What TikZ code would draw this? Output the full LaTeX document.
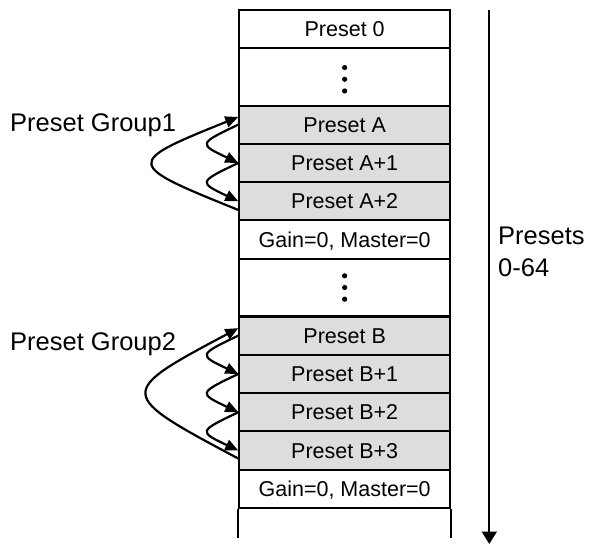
\documentclass[tikz,border=0pt]{standalone}
\usepackage{fontspec}
\setmainfont{Liberation Sans}
\usetikzlibrary{arrows.meta}
\definecolor{cellgray}{RGB}{221,221,221}
\begin{document}
\begin{tikzpicture}[x=1pt,y=-1pt,
  cell/.style={draw, line width=2pt, minimum width=210.7pt, minimum height=38.3pt,
    inner sep=0pt, font=\fontsize{21.5}{25}\selectfont, text height=15.4pt, text depth=0pt},
  grp/.style={fill=cellgray},
  dotrow/.style={draw, line width=2pt, minimum width=210.7pt, minimum height=57.6pt, inner sep=0pt},
  lbl/.style={inner sep=0pt, font=\fontsize{25.5}{32}\selectfont},
  link/.style={line width=2.2pt, -{Triangle[length=13pt,width=11pt]}},
  bullet/.style={fill=black}
]
\useasboundingbox (0,0) rectangle (589,544);
% table rows
\node[cell] (r0) at (344.65,29.15) {Preset 0};
\node[dotrow] (d1) at (344.65,76.75) {};
\node[cell,grp] (A)  at (344.65,124.65) {Preset A};
\node[cell,grp] (A1) at (344.65,162.95) {Preset A+1};
\node[cell,grp] (A2) at (344.65,201.25) {Preset A+2};
\node[cell] (G1) at (344.65,239.55) {Gain=0, Master=0};
\node[dotrow] (d2) at (344.65,287.5) {};
\node[cell,grp] (B)  at (344.65,335.65) {Preset B};
\node[cell,grp] (B1) at (344.65,373.95) {Preset B+1};
\node[cell,grp] (B2) at (344.65,412.25) {Preset B+2};
\node[cell,grp] (B3) at (344.65,450.55) {Preset B+3};
\node[cell] (G2) at (344.65,488.85) {Gain=0, Master=0};
\draw[line width=2pt] (G2.south west) -- ([yshift=-29pt]G2.south west);
\draw[line width=2pt] (G2.south east) -- ([yshift=-29pt]G2.south east);
% dots
\foreach \dy in {-9.2,2.5,14.2} \fill[bullet] ([yshift=-\dy pt]d1.center) circle (2.6pt);
\foreach \dy in {-11.7,0,11.7} \fill[bullet] ([yshift=-\dy pt]d2.center) circle (2.6pt);
% labels
\node[lbl, anchor=base west] (g1) at (10,131.7) {Preset Group1};
\node[lbl, anchor=base west] (g2) at (10,350.7) {Preset Group2};
\node[lbl, anchor=north west, align=left] (pr) at (498,227) {Presets\\0-64};
% right arrow
\coordinate (rtop) at (489.3,10);
\coordinate (rbot) at (489.3,544);
\draw[line width=2pt, -{Triangle[length=12.5pt,width=15pt]}] (rtop) -- (rbot);
% group 1 links
\draw[link] ([yshift=-8.7pt]A2.west) .. controls +(-114,-46) and +(-114,46) .. ([yshift=7.7pt]A.west);
\draw[link] (A.west) .. controls +(-40,19) and +(-40,-19) .. (A1.west);
\draw[link] (A1.west) .. controls +(-40,19) and +(-40,-19) .. (A2.west);
% group 2 links
\draw[link] ([yshift=-8pt]B3.west) .. controls +(-122,-65) and +(-122,65) .. ([yshift=7.5pt]B.west);
\draw[link] (B.west) .. controls +(-40,19) and +(-40,-19) .. (B1.west);
\draw[link] (B1.west) .. controls +(-40,19) and +(-40,-19) .. (B2.west);
\draw[link] (B2.west) .. controls +(-40,19) and +(-40,-19) .. (B3.west);
\end{tikzpicture}
\end{document}
